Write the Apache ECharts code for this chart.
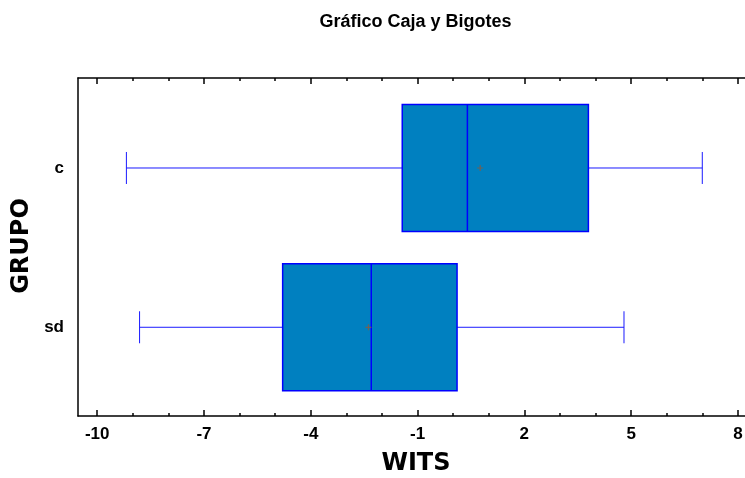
<!DOCTYPE html>
<html lang="es">
<head>
<meta charset="UTF-8">
<title>Gráfico Caja y Bigotes</title>
<script src="https://cdn.jsdelivr.net/npm/echarts@6/dist/echarts.min.js"></script>
<style>html,body{margin:0;padding:0;background:#fff;}</style>
</head>
<body>
<div id="main" style="width:745px;height:478px;"></div>
<script>
// grupos (arriba -> abajo)
var grupos = ['c', 'sd'];
// [min, Q1, mediana, Q3, max] de WITS por grupo
var cajas = [
    [-9.18, -1.43, 0.40, 3.80, 7.00],
    [-8.81, -4.79, -2.30, 0.11, 4.80]
];
var medias = [0.76, -2.38];
var ticksMayores = [-10, -7, -4, -1, 2, 5, 8];
var ticksMenores = [-10, -9, -8, -7, -6, -5, -4, -3, -2, -1, 0, 1, 2, 3, 4, 5, 6, 7, 8];

var myChart = echarts.init(document.getElementById('main'));

// posicion vertical: primer grupo arriba
function posY(i) { return grupos.length - 1 - i; }

var datosCaja = cajas.map(function (c, i) { return [posY(i)].concat(c); });
var datosMedia = medias.map(function (m, i) { return [m, posY(i)]; });

var MEDIA_ALTO = 63.5;  // mitad de la altura de la caja (px)
var TOPE = 16;          // mitad del tope de los bigotes (px)

function dibujaCaja(params, api) {
    var y = api.value(0);
    var p = [1, 2, 3, 4, 5].map(function (k) { return api.coord([api.value(k), y]); });
    var cy = p[0][1];
    var linea = { stroke: '#1a1aff', lineWidth: 1 };
    return {
        type: 'group',
        children: [
            { type: 'line', shape: { x1: p[0][0], y1: cy, x2: p[1][0], y2: cy }, style: linea },
            { type: 'line', shape: { x1: p[3][0], y1: cy, x2: p[4][0], y2: cy }, style: linea },
            { type: 'line', shape: { x1: p[0][0], y1: cy - TOPE, x2: p[0][0], y2: cy + TOPE }, style: linea },
            { type: 'line', shape: { x1: p[4][0], y1: cy - TOPE, x2: p[4][0], y2: cy + TOPE }, style: linea },
            {
                type: 'rect',
                shape: { x: p[1][0], y: cy - MEDIA_ALTO, width: p[3][0] - p[1][0], height: 2 * MEDIA_ALTO },
                style: { fill: '#0080c0', stroke: '#0000ff', lineWidth: 1.5 }
            },
            { type: 'line', shape: { x1: p[2][0], y1: cy - MEDIA_ALTO, x2: p[2][0], y2: cy + MEDIA_ALTO }, style: { stroke: '#0000ff', lineWidth: 1.5 } }
        ]
    };
}

function ejeX(pos, ticks, largo, conLinea, conEtiquetas) {
    return {
        type: 'value',
        position: pos,
        min: -10.54,
        max: 8.2,
        axisLine: { show: conLinea, onZero: false, lineStyle: { color: '#000', width: 1.5 } },
        axisTick: { show: true, inside: true, length: largo, customValues: ticks, lineStyle: { color: '#000', width: 1.5 } },
        axisLabel: {
            show: conEtiquetas, customValues: ticks, margin: 10,
            color: '#000', fontFamily: 'Liberation Sans', fontWeight: 'bold', fontSize: 17
        },
        splitLine: { show: false }
    };
}

var option = {
    backgroundColor: '#fff',
    animation: false,
    grid: { left: 78, right: 0, top: 78, bottom: 62, outerBoundsMode: 'none' },
    xAxis: [
        ejeX('bottom', ticksMayores, 6, true, true),
        ejeX('bottom', ticksMenores, 3, false, false),
        ejeX('top', ticksMayores, 6, true, false),
        ejeX('top', ticksMenores, 3, false, false)
    ],
    yAxis: {
        type: 'value',
        min: -0.557,
        max: 1.565,
        axisLine: { show: true, onZero: false, lineStyle: { color: '#000', width: 1.5 } },
        axisTick: { show: false },
        splitLine: { show: false },
        axisLabel: {
            customValues: grupos.map(function (g, i) { return posY(i); }),
            formatter: function (v) { return grupos[grupos.length - 1 - Math.round(v)]; },
            margin: 14,
            color: '#000', fontFamily: 'Liberation Sans', fontWeight: 'bold', fontSize: 17
        }
    },
    graphic: [
        {
            type: 'text', x: 415.5, y: 22,
            style: {
                text: 'Gráfico Caja y Bigotes', textAlign: 'center', textVerticalAlign: 'middle',
                fill: '#000', font: 'bold 18px "Liberation Sans"'
            }
        },
        {
            type: 'text', x: 416, y: 464,
            style: {
                text: 'WITS', textAlign: 'center', textVerticalAlign: 'middle',
                fill: '#000', font: 'bold 24px "DejaVu Sans"'
            }
        },
        {
            type: 'text', x: 22, y: 246, rotation: Math.PI / 2,
            style: {
                text: 'GRUPO', textAlign: 'center', textVerticalAlign: 'middle',
                fill: '#000', font: 'bold 24px "DejaVu Sans"'
            }
        }
    ],
    series: [
        {
            type: 'custom',
            renderItem: dibujaCaja,
            encode: { x: [1, 2, 3, 4, 5], y: 0 },
            data: datosCaja,
            z: 2
        },
        {
            type: 'scatter',
            symbol: 'path://M2,0h1v2h2v1h-2v2h-1v-2h-2v-1h2z',
            symbolSize: 6,
            itemStyle: { color: '#8b5a3c' },
            data: datosMedia,
            z: 3
        }
    ]
};
myChart.setOption(option);
</script>
</body>
</html>
